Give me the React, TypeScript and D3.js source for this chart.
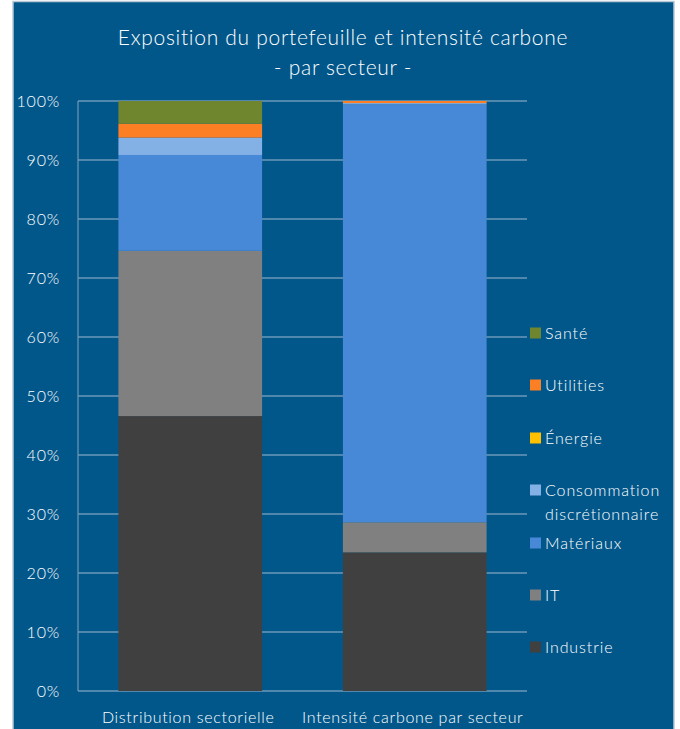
import { useEffect, useRef } from 'react';
import * as d3 from 'd3';

const categories = ['Distribution sectorielle', 'Intensité carbone par secteur'];

// stacking order: bottom to top
const sectors = ['Industrie', 'IT', 'Matériaux', 'Consommation discrétionnaire', 'Énergie', 'Utilities', 'Santé'];
const colors = ['#404040', '#808080', '#4789d7', '#83b1e6', '#ffc000', '#fd7f23', '#70862e'];

const industrie = [46.6, 23.5];
const it = [28.0, 5.1];
const materiaux = [16.25, 70.85];
const consommation = [2.95, 0.2];
const energie = [0, 0];
const utilities = [2.35, 0.35];
const sante = [3.85, 0];

const yTicks = [0, 10, 20, 30, 40, 50, 60, 70, 80, 90, 100];

const W = 680;
const H = 729;
const BG = '#02578a';
const FONT = 'Lato, "Open Sans", sans-serif';

const App = () => {
  const svgRef = useRef<SVGSVGElement>(null);

  useEffect(() => {
    const svg = d3.select(svgRef.current);
    svg.selectAll('*').remove();

    const margin = { top: 101, left: 78, right: 153, bottom: 38 };
    const width = W - margin.left - margin.right;
    const height = H - margin.top - margin.bottom;

    // panel
    svg.append('rect').attr('width', W).attr('height', H).attr('fill', '#ffffff');
    svg
      .append('rect')
      .attr('x', 13)
      .attr('y', 1.5)
      .attr('width', 661)
      .attr('height', H)
      .attr('fill', BG)
      .attr('stroke', '#b8c9d6')
      .attr('stroke-width', 1.5);

    // title
    const title = svg
      .append('text')
      .attr('text-anchor', 'middle')
      .attr('fill', '#ffffff')
      .style('font-family', FONT)
      .style('font-weight', 300)
      .style('font-size', '21px')
      .style('letter-spacing', '0.7px');
    title.append('tspan').attr('x', 343).attr('y', 45).text('Exposition du portefeuille et intensité carbone');
    title.append('tspan').attr('x', 343).attr('y', 75).text('- par secteur -');

    const g = svg.append('g').attr('transform', `translate(${margin.left},${margin.top})`);

    const x = d3.scaleBand().domain(categories).range([0, width]).paddingInner(0.36).paddingOuter(0.18);
    const y = d3.scaleLinear().domain([0, 100]).range([height, 0]);

    // gridlines
    g.selectAll('.grid')
      .data(yTicks)
      .enter()
      .append('line')
      .attr('x1', 0)
      .attr('x2', width)
      .attr('y1', (d) => y(d))
      .attr('y2', (d) => y(d))
      .attr('stroke', '#9dbad0')
      .attr('stroke-width', 1.2);

    // y axis line
    g.append('line')
      .attr('x1', 0)
      .attr('x2', 0)
      .attr('y1', 0)
      .attr('y2', height)
      .attr('stroke', '#6f97b5')
      .attr('stroke-width', 1.2);

    // tick labels
    g.selectAll('.ylab')
      .data(yTicks)
      .enter()
      .append('text')
      .attr('x', -18)
      .attr('y', (d) => y(d))
      .attr('dy', '0.35em')
      .attr('text-anchor', 'end')
      .attr('fill', '#ffffff')
      .style('font-family', FONT)
      .style('font-weight', 300)
      .style('font-size', '16px')
      .style('letter-spacing', '0.8px')
      .text((d) => `${d}%`);

    // stack
    const table = categories.map((c, i) => ({
      cat: c,
      Industrie: industrie[i],
      IT: it[i],
      'Matériaux': materiaux[i],
      'Consommation discrétionnaire': consommation[i],
      'Énergie': energie[i],
      Utilities: utilities[i],
      'Santé': sante[i],
    }));
    const series = d3.stack<any>().keys(sectors)(table);

    series.forEach((s, si) => {
      g.selectAll(`.seg-${si}`)
        .data(s)
        .enter()
        .append('rect')
        .attr('x', (d) => x(d.data.cat)!)
        .attr('width', x.bandwidth())
        .attr('y', (d) => y(d[1]))
        .attr('height', (d) => y(d[0]) - y(d[1]))
        .attr('fill', colors[si]);
    });

    // x labels
    g.selectAll('.xlab')
      .data(categories)
      .enter()
      .append('text')
      .attr('x', (d) => x(d)! + x.bandwidth() / 2 - 2)
      .attr('y', height + 32)
      .attr('text-anchor', 'middle')
      .attr('fill', '#ffffff')
      .style('font-family', FONT)
      .style('font-weight', 300)
      .style('font-size', '16px')
      .style('letter-spacing', '0.7px')
      .text((d) => d);

    // legend, top = last sector
    const legendItems = sectors.slice().reverse();
    const legendColors = colors.slice().reverse();
    const legendY = [333, 385, 438, 490, 543, 595, 647];
    legendItems.forEach((name, i) => {
      const lg = svg.append('g').attr('transform', `translate(530,${legendY[i]})`);
      lg.append('rect').attr('x', 0).attr('y', -5.5).attr('width', 11).attr('height', 11).attr('fill', legendColors[i]);
      const t = lg
        .append('text')
        .attr('fill', '#ffffff')
        .style('font-family', FONT)
        .style('font-weight', 300)
        .style('font-size', '16px')
        .style('letter-spacing', '0.9px');
      const parts = name === 'Consommation discrétionnaire' ? ['Consommation', 'discrétionnaire'] : [name];
      parts.forEach((p, k) => {
        t.append('tspan').attr('x', 15).attr('y', k * 24).attr('dy', '0.35em').text(p);
      });
    });
  }, []);

  return (
    <div style={{ position: 'absolute', left: 0, top: 0 }}>
      <svg ref={svgRef} width={W} height={H} style={{ display: 'block' }}></svg>
    </div>
  );
};

export default App;
